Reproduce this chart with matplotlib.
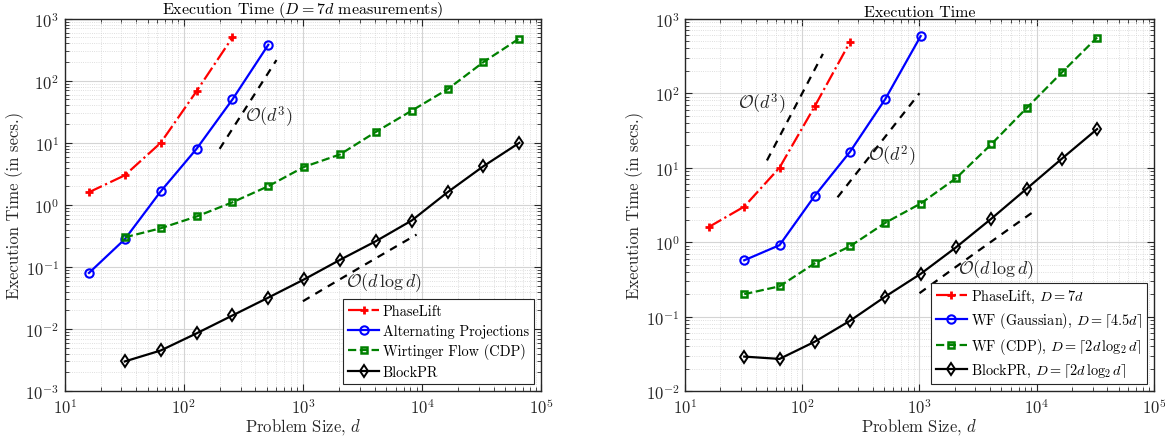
import numpy as np
import matplotlib
matplotlib.use('Agg')
import matplotlib.pyplot as plt

plt.rcParams['font.family'] = 'serif'
plt.rcParams['font.serif'] = ['cmr10']
plt.rcParams['mathtext.fontset'] = 'cm'
plt.rcParams['axes.formatter.use_mathtext'] = True
plt.rcParams['axes.unicode_minus'] = False

# ---- left panel data (D = 7d) ----
d_pl = [16, 32, 64, 128, 256]
t_pl = [1.6, 3.0, 10, 68, 500]
d_ap = [16, 32, 64, 128, 256, 512]
t_ap = [0.08, 0.28, 1.65, 8.0, 50, 380]
d_wf = [32, 64, 128, 256, 512, 1024, 2048, 4096, 8192, 16384, 32768, 65536]
t_wf = [0.30, 0.42, 0.65, 1.1, 2.0, 4.1, 6.5, 15, 33, 73, 200, 480]
d_bp = [32, 64, 128, 256, 512, 1024, 2048, 4096, 8192, 16384, 32768, 65536]
t_bp = [0.003, 0.0045, 0.0085, 0.0165, 0.032, 0.063, 0.13, 0.26, 0.56, 1.6, 4.2, 10]

# ---- right panel data ----
d_pl2 = [16, 32, 64, 128, 256]
t_pl2 = [1.6, 3.0, 10, 67, 490]
d_wg2 = [32, 64, 128, 256, 512, 1024]
t_wg2 = [0.57, 0.91, 4.2, 16.4, 84, 585]
d_wf2 = [32, 64, 128, 256, 512, 1024, 2048, 4096, 8192, 16384, 32768]
t_wf2 = [0.20, 0.255, 0.52, 0.88, 1.82, 3.3, 7.2, 20.6, 63, 190, 560]
d_bp2 = [32, 64, 128, 256, 512, 1024, 2048, 4096, 8192, 16384, 32768]
t_bp2 = [0.029, 0.027, 0.046, 0.088, 0.186, 0.375, 0.85, 2.06, 5.2, 13.2, 33]

# reference slope guides: (d_start, d_end, t_start, kind)
guides_left = [(200, 600, 8.0, 'd3'), (1000, 9000, 0.028, 'dlogd')]
guides_right = [(50, 150, 12.5, 'd3'), (200, 1000, 4.0, 'd2'), (1000, 10000, 0.206, 'dlogd')]
labels_left = [(r'$\mathcal{O}(d^3)$', 520, 27), (r'$\mathcal{O}(d\,\log d)$', 4800, 0.059)]
labels_right = [(r'$\mathcal{O}(d^3)$', 45, 74), (r'$\mathcal{O}(d^2)$', 585, 14.5),
                (r'$\mathcal{O}(d\,\log d)$', 4500, 0.44)]


def guide(ax, d0, d1, t0, kind):
    d = np.logspace(np.log10(d0), np.log10(d1), 50)
    if kind == 'd3':
        t = t0 * (d / d0) ** 3
    elif kind == 'd2':
        t = t0 * (d / d0) ** 2
    else:
        t = t0 * (d * np.log(d)) / (d0 * np.log(d0))
    ax.plot(d, t, 'k--', lw=1.6, dashes=(3.5, 3))


def style(ax, ylim):
    ax.set_xscale('log')
    ax.set_yscale('log')
    ax.set_xlim(10, 1e5)
    ax.set_ylim(*ylim)
    ax.grid(True, which='major', color='#d4d4d4', lw=0.8)
    ax.grid(True, which='minor', color='#d4d4d4', lw=0.6, ls=':')
    ax.tick_params(which='both', direction='in', top=True, right=True, labelsize=12,
                   colors='#262626', pad=4)
    ax.tick_params(which='major', length=5)
    ax.tick_params(which='minor', length=3)
    for s in ax.spines.values():
        s.set_color('#262626')
        s.set_linewidth(1.0)
    ax.set_xlabel(r'Problem Size, $d$', fontsize=12, color='#262626', labelpad=0)
    ax.set_ylabel('Execution Time (in secs.)', fontsize=12, color='#262626', labelpad=1)
    ax.set_axisbelow(True)


def legend(ax):
    leg = ax.legend(loc='lower right', fontsize=10.3, fancybox=False, framealpha=1,
                    edgecolor='#262626', borderpad=0.35, handlelength=2.2, handletextpad=0.25,
                    labelspacing=0.4, borderaxespad=0.5)
    leg.get_frame().set_linewidth(0.8)


fig = plt.figure(figsize=(11.65, 4.39), dpi=100)

ax = fig.add_axes([0.0555, 0.107, 0.409, 0.848])
ax.plot(d_pl, t_pl, '-.', color='red', marker='+', ms=6, mew=2, lw=1.6, label='PhaseLift')
ax.plot(d_ap, t_ap, '-', color='blue', marker='o', ms=6, mfc='none', mew=1.5, lw=1.6,
        label='Alternating Projections')
ax.plot(d_wf, t_wf, '--', color='green', marker='s', ms=4.5, mfc='none', mew=1.8, lw=1.6,
        label='Wirtinger Flow (CDP)')
ax.plot(d_bp, t_bp, '-', color='black', marker='d', ms=6.5, mfc='none', mew=1.4, lw=1.6,
        label='BlockPR')
for g in guides_left:
    guide(ax, *g)
for txt, x, y in labels_left:
    ax.text(x, y, txt, fontsize=13, ha='center', va='center', color='#262626')
style(ax, (1e-3, 1e3))
ax.set_title(r'Execution Time ($D = 7d$ measurements)', fontsize=11.5, pad=1.5)
legend(ax)

ax = fig.add_axes([0.588, 0.107, 0.4025, 0.848])
ax.plot(d_pl2, t_pl2, '-.', color='red', marker='+', ms=6, mew=2, lw=1.6,
        label=r'PhaseLift, $D = 7d$')
ax.plot(d_wg2, t_wg2, '-', color='blue', marker='o', ms=6, mfc='none', mew=1.5, lw=1.6,
        label=r'WF (Gaussian), $D = \lceil 4.5d\rceil$')
ax.plot(d_wf2, t_wf2, '--', color='green', marker='s', ms=4.5, mfc='none', mew=1.8, lw=1.6,
        label=r'WF (CDP), $D = \lceil 2d\,\log_2 d\rceil$')
ax.plot(d_bp2, t_bp2, '-', color='black', marker='d', ms=6.5, mfc='none', mew=1.4, lw=1.6,
        label=r'BlockPR, $D = \lceil 2d\,\log_2 d\rceil$')
for g in guides_right:
    guide(ax, *g)
for txt, x, y in labels_right:
    ax.text(x, y, txt, fontsize=13, ha='center', va='center', color='#262626')
style(ax, (1e-2, 1e3))
ax.set_title('Execution Time', fontsize=11.5, pad=1.5)
legend(ax)

fig.savefig('out.png', dpi=100)
